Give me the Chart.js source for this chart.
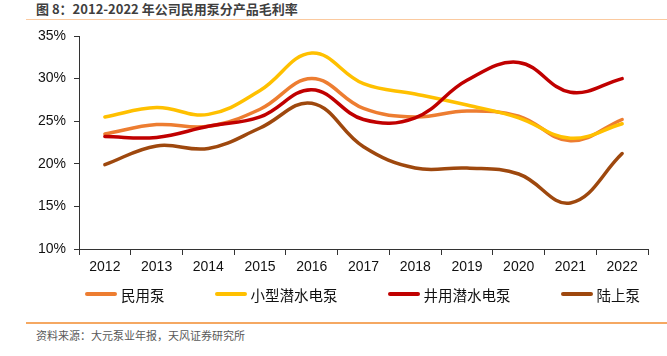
<!DOCTYPE html>
<html>
<head>
<meta charset="utf-8">
<script src="https://cdn.jsdelivr.net/npm/chart.js@4.4.1/dist/chart.umd.min.js"></script>
<style>
  html, body { margin: 0; padding: 0; background: #fff; }
  body { width: 667px; height: 356px; position: relative; overflow: hidden; font-family: "Noto Sans CJK SC", "Liberation Sans", sans-serif; }
  #title { position: absolute; left: 36px; top: 0px; font-size: 13px; font-weight: bold; color: #3f3f3f; line-height: 18px; white-space: nowrap; }
  #topRule { position: absolute; left: 26px; right: 0; top: 18.5px; height: 1.5px; background: #fbcaa0; }
  #wrap { position: absolute; left: 0; top: 0; width: 667px; height: 285px; }
  #legend { position: absolute; left: 85px; top: 284px; height: 20px; display: flex; align-items: center; gap: 50px; font-size: 14.5px; color: #111; }
  .item { display: flex; align-items: center; white-space: nowrap; }
  .swatch { width: 32px; height: 4px; border-radius: 2px; margin-right: 4px; }
  #bottomRule { position: absolute; left: 26px; right: 0; top: 322px; height: 1.5px; background: #f5a862; }
  #source { position: absolute; left: 36px; top: 327px; font-size: 11px; color: #595959; line-height: 16px; white-space: nowrap; }
</style>
</head>
<body>
<div id="title">图 8：2012-2022 年公司民用泵分产品毛利率</div>
<div id="topRule"></div>
<div id="wrap"><canvas id="c" width="667" height="285"></canvas></div>
<div id="legend"></div>
<div id="bottomRule"></div>
<div id="source">资料来源：大元泵业年报，天风证券研究所</div>
<script>
// ---- data ----
const years = ['2012','2013','2014','2015','2016','2017','2018','2019','2020','2021','2022'];
const civilPump        = [23.5, 24.6, 24.4, 26.4, 30.0, 26.5, 25.5, 26.2, 25.6, 22.7, 25.2]; // 民用泵
const smallSubmersible = [25.5, 26.6, 25.8, 28.6, 33.0, 29.4, 28.2, 26.9, 25.4, 23.0, 24.7]; // 小型潜水电泵
const wellSubmersible  = [23.2, 23.1, 24.4, 25.5, 28.7, 25.2, 25.4, 29.8, 31.9, 28.4, 30.0]; // 井用潜水电泵
const landPump         = [19.9, 22.1, 21.8, 24.2, 27.1, 22.0, 19.5, 19.5, 18.8, 15.4, 21.2]; // 陆上泵
const seriesNames  = ['民用泵', '小型潜水电泵', '井用潜水电泵', '陆上泵'];
const seriesValues = [civilPump, smallSubmersible, wellSubmersible, landPump];
const seriesColors = ['#ed7d31', '#ffc000', '#c00000', '#9e480e'];
const yMin = 10, yMax = 35, yStep = 5;

const datasets = seriesNames.map((name, i) => ({
  label: name,
  data: seriesValues[i],
  borderColor: seriesColors[i],
  backgroundColor: seriesColors[i],
  borderWidth: 3.5,
  pointRadius: 0,
  pointHoverRadius: 0,
  tension: 0.4,
  borderCapStyle: 'round',
  borderJoinStyle: 'round',
  fill: false,
  order: seriesNames.length - i
}));

const axisColor = '#333333';
const tickFont = { family: "'Liberation Sans', Arial, sans-serif", size: 14 };

new Chart(document.getElementById('c'), {
  type: 'line',
  data: { labels: years, datasets },
  options: {
    responsive: false,
    animation: false,
    events: [],
    layout: { padding: { top: 36, left: 0, right: 19, bottom: 0 } },
    plugins: { legend: { display: false }, tooltip: { enabled: false } },
    scales: {
      x: {
        type: 'category',
        offset: true,
        grid: { offset: true, drawOnChartArea: false, drawTicks: true, tickLength: 6, color: axisColor, lineWidth: 1 },
        border: { display: true, color: axisColor, width: 1 },
        ticks: { font: tickFont, color: '#111', padding: 4, maxRotation: 0, autoSkip: false },
        afterFit: s => { s.height = 36; }
      },
      y: {
        min: yMin, max: yMax,
        grid: { drawOnChartArea: false, drawTicks: true, tickLength: 5, color: axisColor, lineWidth: 1 },
        border: { display: true, color: axisColor, width: 1 },
        ticks: { stepSize: yStep, font: tickFont, color: '#111', padding: 8, callback: v => v + '%' },
        afterFit: s => { s.width = 79; }
      }
    }
  }
});

// HTML legend built from the series arrays
const legend = document.getElementById('legend');
seriesNames.forEach((name, i) => {
  const item = document.createElement('div');
  item.className = 'item';
  const sw = document.createElement('span');
  sw.className = 'swatch';
  sw.style.background = seriesColors[i];
  const tx = document.createElement('span');
  tx.textContent = name;
  item.appendChild(sw);
  item.appendChild(tx);
  legend.appendChild(item);
});
</script>
</body>
</html>
